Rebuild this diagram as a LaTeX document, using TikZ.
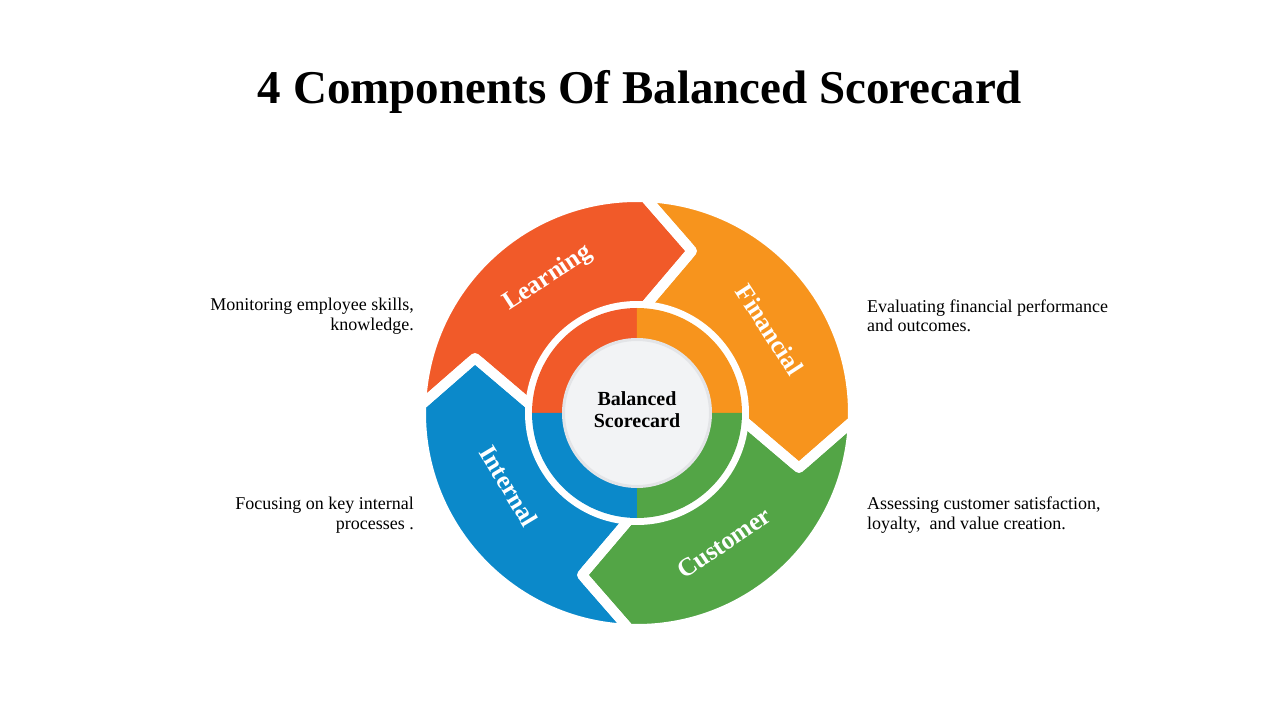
\documentclass[tikz,border=0pt]{standalone}
\usepackage{fontspec}
\setmainfont{Liberation Serif}
\usetikzlibrary{calc}
\definecolor{cred}{HTML}{F15A29}
\definecolor{corange}{HTML}{F7941D}
\definecolor{cgreen}{HTML}{53A546}
\definecolor{cblue}{HTML}{0B89CA}
\definecolor{cgray}{HTML}{F2F3F5}
\definecolor{cgrayline}{HTML}{E3E4E7}
\newcommand\segshape[2]{%
  \path[#2] (177.88+#1:216) arc[start angle=177.88+#1, end angle=87.88+#1, radius=216]
    -- ($(71.25+#1:171.08)!9pt!(87.88+#1:216)$)
    .. controls (71.25+#1:171.08) .. ($(71.25+#1:171.08)!9pt!(85.71+#1:107)$)
    -- (85.71+#1:107) arc[start angle=85.71+#1, end angle=175.71+#1, radius=107]
    -- (161.25+#1:171.08) -- cycle;}
\newcommand\quadr[2]{%
  \fill[#2] (0,0) -- (#1:105) arc[start angle=#1, end angle=#1-90, radius=105] -- cycle;}
\tikzset{
  gapline/.style={draw=white, line width=10pt, line join=round},
  seglabel/.style={text=white, font=\bfseries\fontsize{25.5}{27}\selectfont},
  desc/.style={font=\fontsize{18}{19.5}\selectfont, text=black, inner sep=0pt},
}
\begin{document}
\begin{tikzpicture}[x=1pt,y=1pt]
\useasboundingbox[fill=white] (-637,-307) rectangle (643,413);
% title
\node[font=\bfseries\fontsize{47}{52}\selectfont] (title) at (3,321) {4 Components Of Balanced Scorecard};
% outer segments
\segshape{0}{fill=cred}
\segshape{270}{fill=corange}
\segshape{180}{fill=cgreen}
\segshape{90}{fill=cblue}
\segshape{0}{gapline}
\segshape{270}{gapline}
\segshape{180}{gapline}
\segshape{90}{gapline}
% inner quadrants
\quadr{180}{cred}
\quadr{90}{corange}
\quadr{0}{cgreen}
\quadr{270}{cblue}
% center
\node[circle, minimum size=147pt, inner sep=0pt, fill=cgray, draw=cgrayline, line width=3pt] (center) at (0,0) {};
\node[align=center, font=\bfseries\fontsize{20}{22}\selectfont] (centertext) at (0,3) {Balanced\\Scorecard};
% segment labels
\node[seglabel, rotate=33] (learning) at (-89,135) {Learning};
\node[seglabel, rotate=-57] (financial) at (133,83) {Financial};
\node[seglabel, rotate=34] (customer) at (87,-130) {Customer};
\node[seglabel, rotate=-59] (internal) at (-128,-73) {Internal};
% descriptions
\node[desc, anchor=east, align=right] (dlearn) at (-223,97) {Monitoring employee skills,\\knowledge.};
\node[desc, anchor=east, align=right] (dint) at (-223,-102) {Focusing on key internal\\processes .};
\node[desc, anchor=west, align=left] (dfin) at (230,97) {Evaluating financial performance\\and outcomes.};
\node[desc, anchor=west, align=left] (dcust) at (230,-102) {Assessing customer satisfaction,\\loyalty,~ and value creation.};
\end{tikzpicture}
\end{document}
